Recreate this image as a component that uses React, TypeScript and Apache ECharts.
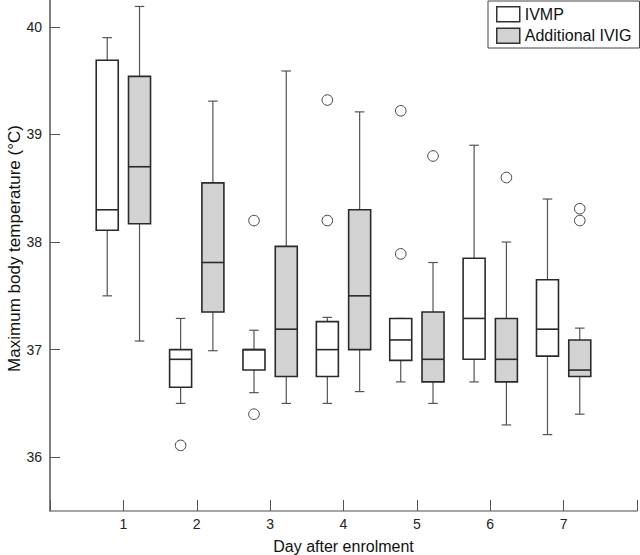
import React, { useEffect, useRef } from "react";
import * as echarts from "echarts";

const FONT = "'Liberation Sans', Arial, Helvetica, sans-serif";

const days = [1, 2, 3, 4, 5, 6, 7];
const yTicks = [36, 37, 38, 39, 40];

// [min, Q1, median, Q3, max]
const ivmpStats = [
  [37.5, 38.11, 38.3, 39.69, 39.9],
  [36.5, 36.65, 36.91, 37.0, 37.29],
  [36.6, 36.81, 37.0, 37.0, 37.18],
  [36.5, 36.75, 37.0, 37.26, 37.3],
  [36.7, 36.9, 37.09, 37.29, 37.29],
  [36.7, 36.91, 37.29, 37.85, 38.9],
  [36.21, 36.94, 37.19, 37.65, 38.4],
];
const ivigStats = [
  [37.08, 38.17, 38.7, 39.54, 40.19],
  [36.99, 37.35, 37.81, 38.55, 39.31],
  [36.5, 36.75, 37.19, 37.96, 39.59],
  [36.61, 37.0, 37.5, 38.3, 39.21],
  [36.5, 36.7, 36.91, 37.35, 37.81],
  [36.3, 36.7, 36.91, 37.29, 38.0],
  [36.4, 36.75, 36.81, 37.09, 37.2],
];
// [day, value]
const ivmpOutliers = [
  [2, 36.11],
  [3, 38.2],
  [3, 36.4],
  [4, 39.32],
  [4, 38.2],
  [5, 39.22],
  [5, 37.89],
];
const ivigOutliers = [
  [5, 38.8],
  [6, 38.6],
  [7, 38.31],
  [7, 38.2],
];

const SHIFT = 0.22; // fraction of one day unit
const HALF_W = 0.15;
const CAP_HW = 0.065;

function makeBoxRenderer(shift: number, fill: string) {
  return function (_params: any, api: any) {
    const d = api.value(0);
    const pMin = api.coord([d, api.value(1)]);
    const pQ1 = api.coord([d, api.value(2)]);
    const pMed = api.coord([d, api.value(3)]);
    const pQ3 = api.coord([d, api.value(4)]);
    const pMax = api.coord([d, api.value(5)]);
    const unit = api.size([1, 0])[0];
    const cx = pMin[0] + shift * unit;
    const hw = HALF_W * unit;
    const cw = CAP_HW * unit;
    const wStyle = { stroke: "#555", lineWidth: 1.2 };
    const bStyle = { stroke: "#2a2a2a", lineWidth: 1.6 };
    return {
      type: "group",
      children: [
        { type: "line", shape: { x1: cx, y1: pQ3[1], x2: cx, y2: pMax[1] }, style: wStyle },
        { type: "line", shape: { x1: cx, y1: pQ1[1], x2: cx, y2: pMin[1] }, style: wStyle },
        { type: "line", shape: { x1: cx - cw, y1: pMax[1], x2: cx + cw, y2: pMax[1] }, style: wStyle },
        { type: "line", shape: { x1: cx - cw, y1: pMin[1], x2: cx + cw, y2: pMin[1] }, style: wStyle },
        {
          type: "rect",
          shape: { x: cx - hw, y: pQ3[1], width: 2 * hw, height: pQ1[1] - pQ3[1] },
          style: { fill, ...bStyle },
        },
        { type: "line", shape: { x1: cx - hw, y1: pMed[1], x2: cx + hw, y2: pMed[1] }, style: bStyle },
      ],
    };
  };
}

function makeOutlierRenderer(shift: number) {
  return function (_params: any, api: any) {
    const p = api.coord([api.value(0), api.value(1)]);
    const unit = api.size([1, 0])[0];
    return {
      type: "circle",
      shape: { cx: p[0] + shift * unit, cy: p[1], r: 5.3 },
      style: { fill: "#fff", stroke: "#444", lineWidth: 1 },
    };
  };
}

export default function App() {
  const ref = useRef<HTMLDivElement>(null);
  useEffect(() => {
    if (!ref.current) return;
    const chart = echarts.init(ref.current, null, { renderer: "svg" });
    const ivmpRows = days.map((d, i) => [d, ...ivmpStats[i]]);
    const ivigRows = days.map((d, i) => [d, ...ivigStats[i]]);
    chart.setOption({
      animation: false,
      backgroundColor: "#fff",
      textStyle: { fontFamily: FONT },
      grid: { left: 50, right: 3, top: 0, bottom: 44, containLabel: false, outerBoundsMode: "none" },
      legend: {
        left: 488,
        top: 1,
        orient: "vertical",
        itemWidth: 23,
        itemHeight: 15,
        itemGap: 5,
        padding: [5, 8, 4, 8],
        borderColor: "#444",
        borderWidth: 1,
        borderRadius: 0,
        selectedMode: false,
        textStyle: { fontSize: 16, color: "#111", fontFamily: FONT, lineHeight: 15 },
        data: [
          { name: "IVMP", icon: "rect", itemStyle: { color: "#fff", borderColor: "#333", borderWidth: 1.5 } },
          { name: "Additional IVIG", icon: "rect", itemStyle: { color: "#d2d2d2", borderColor: "#333", borderWidth: 1.5 } },
        ],
      },
      xAxis: {
        type: "value",
        min: 0,
        max: 8,
        interval: 1,
        name: "Day after enrolment",
        nameLocation: "middle",
        nameGap: 27,
        nameMoveOverlap: false,
        nameTextStyle: { fontSize: 16, color: "#111", fontFamily: FONT },
        axisLine: { show: true, lineStyle: { color: "#888", width: 1.5 } },
        axisTick: { show: true, inside: true, length: 11, lineStyle: { color: "#555", width: 1 } },
        axisLabel: {
          fontSize: 14,
          color: "#222",
          margin: 6,
          formatter: (v: number) => (days.indexOf(v) >= 0 ? String(v) : ""),
        },
        splitLine: { show: false },
      },
      yAxis: {
        type: "value",
        min: 35.5,
        max: 40.25,
        name: "Maximum body temperature (°C)",
        nameLocation: "middle",
        nameGap: 27,
        nameMoveOverlap: false,
        nameTextStyle: { fontSize: 17, color: "#111", fontFamily: FONT, padding: [0, 0, 0, 14] },
        axisLine: { show: true, lineStyle: { color: "#555", width: 1.5 } },
        axisTick: { show: true, inside: true, length: 10, lineStyle: { color: "#555", width: 1 }, customValues: yTicks },
        axisLabel: {
          fontSize: 14,
          color: "#222",
          margin: 8,
          customValues: yTicks,
        },
        splitLine: { show: false },
      },
      series: [
        {
          type: "custom",
          name: "IVMP",
          renderItem: makeBoxRenderer(-SHIFT, "#fff"),
          data: ivmpRows,
          encode: { x: 0, y: [1, 2, 3, 4, 5] },
          itemStyle: { color: "#fff", borderColor: "#333" },
        },
        {
          type: "custom",
          name: "Additional IVIG",
          renderItem: makeBoxRenderer(SHIFT, "#d2d2d2"),
          data: ivigRows,
          encode: { x: 0, y: [1, 2, 3, 4, 5] },
          itemStyle: { color: "#d2d2d2", borderColor: "#333" },
        },
        {
          type: "custom",
          name: "IVMP outliers",
          renderItem: makeOutlierRenderer(-SHIFT),
          data: ivmpOutliers,
          encode: { x: 0, y: 1 },
        },
        {
          type: "custom",
          name: "Additional IVIG outliers",
          renderItem: makeOutlierRenderer(SHIFT),
          data: ivigOutliers,
          encode: { x: 0, y: 1 },
        },
      ],
    });
    return () => chart.dispose();
  }, []);
  return (
    <div
      ref={ref}
      style={{ position: "fixed", left: 0, top: 0, width: 640, height: 555, background: "#fff" }}
    />
  );
}
